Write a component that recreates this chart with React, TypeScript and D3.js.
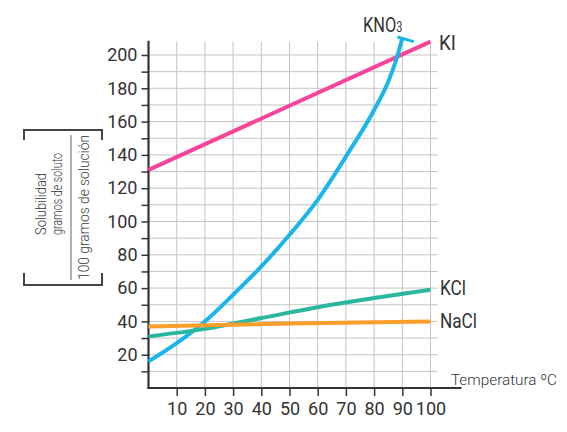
import { useEffect, useRef } from 'react';
import * as d3 from 'd3';

// temperatures (°C) and solubilities
const kno3Temps = [0, 10, 20, 30, 40, 50, 60, 70, 80, 85, 88, 90];
const kno3Values = [16, 27, 40, 56, 73, 92, 113, 139, 167, 184, 198, 210];
const kiTemps = [0, 100];
const kiValues = [131, 208];
const kclTemps = [0, 20, 40, 60, 80, 100];
const kclValues = [31, 35.5, 42, 48.5, 54, 59];
const naclTemps = [0, 50, 100];
const naclValues = [37, 38.7, 40];

const xTicks = [10, 20, 30, 40, 50, 60, 70, 80, 90, 100];
const yTicks = [10, 20, 30, 40, 50, 60, 70, 80, 90, 100, 110, 120, 130, 140, 150, 160, 170, 180, 190, 200];

const W = 567;
const H = 432;
const font = 'Roboto, "Noto Sans", sans-serif';
const ink = '#333';

const x = d3.scaleLinear().domain([0, 100]).range([148.5, 430.5]);
const y = d3.scaleLinear().domain([0, 200]).range([388, 55]);

const series = [
    { name: 'KI', temps: kiTemps, values: kiValues, color: '#f7449a' },
    { name: 'KNO3', temps: kno3Temps, values: kno3Values, color: '#1ab6ea' },
    { name: 'KCl', temps: kclTemps, values: kclValues, color: '#2bb79e' },
    { name: 'NaCl', temps: naclTemps, values: naclValues, color: '#f99d2b' },
];

const Chart = () => {
    const gRef = useRef<SVGGElement>(null);

    useEffect(() => {
        const svg = d3.select(gRef.current);
        svg.selectAll('*').remove();

        // grid
        const grid = svg.append('g').attr('stroke', '#c4c4c4').attr('stroke-width', 1);
        grid.selectAll('line.v')
            .data(xTicks)
            .join('line')
            .attr('class', 'v')
            .attr('x1', d => x(d))
            .attr('x2', d => x(d))
            .attr('y1', y(0))
            .attr('y2', y(208));
        grid.selectAll('line.h')
            .data(yTicks)
            .join('line')
            .attr('class', 'h')
            .attr('x1', x(0))
            .attr('x2', x(102.5))
            .attr('y1', d => y(d))
            .attr('y2', d => y(d));

        // y axis
        const yAxis = svg
            .append('g')
            .attr('transform', `translate(${x(0)},0)`)
            .call(
                d3.axisLeft(y)
                    .tickValues(yTicks)
                    .tickSize(7)
                    .tickSizeOuter(0)
                    .tickPadding(4)
                    .tickFormat(d => (+d % 20 === 0 ? String(d) : ''))
            );
        yAxis.select('.domain').remove();
        yAxis.selectAll('line').attr('stroke', ink).attr('stroke-width', 1.5);
        yAxis.selectAll('text')
            .attr('fill', ink)
            .style('font-family', font)
            .style('font-size', '18px');

        // x axis
        const xAxis = svg
            .append('g')
            .attr('transform', `translate(0,${y(0)})`)
            .call(d3.axisBottom(x).tickValues(xTicks).tickSize(8).tickSizeOuter(0).tickPadding(6));
        xAxis.select('.domain').remove();
        xAxis.selectAll('line').attr('stroke', ink).attr('stroke-width', 1.5);
        xAxis.selectAll('text')
            .attr('fill', ink)
            .style('font-family', font)
            .style('font-size', '18px');

        // axis lines
        svg.append('line')
            .attr('x1', x(0))
            .attr('x2', x(0))
            .attr('y1', y(0) + 1)
            .attr('y2', y(208.5))
            .attr('stroke', ink)
            .attr('stroke-width', 2.2);
        svg.append('line')
            .attr('x1', x(0) - 1)
            .attr('x2', x(111))
            .attr('y1', y(0))
            .attr('y2', y(0))
            .attr('stroke', ink)
            .attr('stroke-width', 2.2);

        // curves
        const line = d3
            .line<[number, number]>()
            .x(d => x(d[0]))
            .y(d => y(d[1]))
            .curve(d3.curveMonotoneX);
        series.forEach(s => {
            const pts = s.temps.map((t, i) => [t, s.values[i]] as [number, number]);
            svg.append('path')
                .attr('d', line(pts))
                .attr('fill', 'none')
                .attr('stroke', s.color)
                .attr('stroke-width', 4);
        });

        // KNO3 end cap, perpendicular to the last segment
        const n = kno3Temps.length;
        const ex = x(kno3Temps[n - 1]);
        const ey = y(kno3Values[n - 1]);
        const dx = ex - x(kno3Temps[n - 2]);
        const dy = ey - y(kno3Values[n - 2]);
        const len = Math.hypot(dx, dy);
        const px = -dy / len;
        const py = dx / len;
        svg.append('line')
            .attr('x1', ex - px * 5)
            .attr('y1', ey - py * 5)
            .attr('x2', ex + px * 12)
            .attr('y2', ey + py * 12)
            .attr('stroke', '#1ab6ea')
            .attr('stroke-width', 3);
    }, []);

    return <g ref={gRef}></g>;
};

const Labels = () => (
    <g fill={ink} fontFamily={font}>
        <text x={439} y={50} fontSize={20} textLength={17} lengthAdjust="spacingAndGlyphs">KI</text>
        <text transform="translate(363,32) scale(0.78,1)" fontSize={21}>
            KNO<tspan fontSize={14}>3</tspan>
        </text>
        <text x={440} y={295} fontSize={21} textLength={26} lengthAdjust="spacingAndGlyphs">KCl</text>
        <text x={440} y={328} fontSize={21} textLength={37} lengthAdjust="spacingAndGlyphs">NaCl</text>
        <text x={451} y={385} fontSize={15.5} fontWeight={300} textLength={106} lengthAdjust="spacingAndGlyphs">
            Temperatura ºC
        </text>
        <path d="M24,140 V130 H102 V140 M24,273 V285 H102 V273" fill="none" stroke="#444" strokeWidth={2} />
        <line x1={71} x2={71} y1={135} y2={280} stroke="#999" strokeWidth={1.5} />
        <g fontSize={14} fontWeight={300} fill="#3a3a3a">
            <text transform="translate(46,235) rotate(-90)" textLength={62} lengthAdjust="spacingAndGlyphs">
                Solubilidad
            </text>
            <text transform="translate(62,235) rotate(-90)" textLength={82} lengthAdjust="spacingAndGlyphs">
                gramos de soluto
            </text>
            <text transform="translate(89,280) rotate(-90)" textLength={145} lengthAdjust="spacingAndGlyphs">
                100 gramos de solución
            </text>
        </g>
    </g>
);

const App = () => (
    <svg width={W} height={H} style={{ position: 'absolute', left: 0, top: 0, background: '#fff' }}>
        <Chart />
        <Labels />
    </svg>
);

export default App;
